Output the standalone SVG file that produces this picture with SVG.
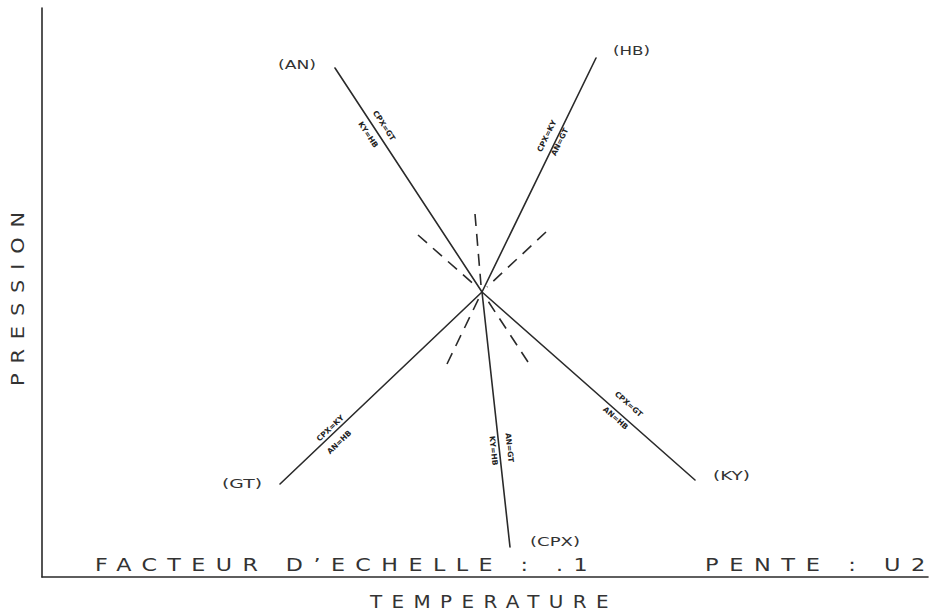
<svg xmlns="http://www.w3.org/2000/svg" width="933" height="611" viewBox="0 0 933 611">
<style>
.ln{stroke:#2a2a2a;stroke-width:1.6;fill:none;stroke-linecap:round}
.ds{stroke:#2a2a2a;stroke-width:1.6;fill:none;stroke-dasharray:12 8}
.t{font-family:"DejaVu Sans","Liberation Sans",sans-serif;fill:#333}
.lb{font-size:12px}
.sm{font-size:7.5px;font-weight:bold;text-anchor:middle;fill:#222}
.big{font-size:17px;letter-spacing:8px}
</style>
<rect width="933" height="611" fill="#fff"/>
<g id="axes">
<line class="ln" x1="42" y1="8" x2="42" y2="577"/>
<line class="ln" x1="42" y1="577" x2="928" y2="577"/>
</g>
<g id="connectors">
<line class="ln" x1="482" y1="292" x2="335" y2="68"/>
<line class="ln" x1="482" y1="292" x2="596" y2="58"/>
<line class="ln" x1="482" y1="292" x2="280" y2="484"/>
<line class="ln" x1="482" y1="292" x2="510" y2="547"/>
<line class="ln" x1="482" y1="292" x2="695" y2="480"/>
<line class="ds" x1="418" y1="235" x2="478" y2="288"/>
<line class="ds" x1="475" y1="214" x2="481" y2="285"/>
<line class="ds" x1="546" y1="232" x2="487" y2="287"/>
<line class="ds" x1="447" y1="364" x2="479" y2="298"/>
<line class="ds" x1="528" y1="362" x2="486" y2="298"/>
</g>
<g id="AN">
<text class="t lb" x="278" y="69" textLength="38" lengthAdjust="spacingAndGlyphs">(AN)</text>
<text class="t sm" transform="translate(382,127) rotate(56.7)">CPX=GT</text>
<text class="t sm" transform="translate(366,136) rotate(56.7)">KY=HB</text>
</g>
<g id="HB">
<text class="t lb" x="613" y="55" textLength="37" lengthAdjust="spacingAndGlyphs">(HB)</text>
<text class="t sm" transform="translate(549,137) rotate(-64)">CPX=KY</text>
<text class="t sm" transform="translate(562,143) rotate(-64)">AN=GT</text>
</g>
<g id="GT">
<text class="t lb" x="222" y="488" textLength="40" lengthAdjust="spacingAndGlyphs">(GT)</text>
<text class="t sm" transform="translate(332,430) rotate(-43.5)">CPX=KY</text>
<text class="t sm" transform="translate(341,444) rotate(-43.5)">AN=HB</text>
</g>
<g id="CPX">
<text class="t lb" x="530" y="546" textLength="50" lengthAdjust="spacingAndGlyphs">(CPX)</text>
<text class="t sm" transform="translate(507,448) rotate(83.7)">AN=GT</text>
<text class="t sm" transform="translate(491,451) rotate(83.7)">KY=HB</text>
</g>
<g id="KY">
<text class="t lb" x="713" y="480" textLength="37" lengthAdjust="spacingAndGlyphs">(KY)</text>
<text class="t sm" transform="translate(627,406) rotate(41.4)">CPX=GT</text>
<text class="t sm" transform="translate(614,420) rotate(41.4)">AN=HB</text>
</g>
<g id="texts">
<text class="t big" x="95" y="571" textLength="503" lengthAdjust="spacingAndGlyphs">FACTEUR D’ECHELLE : .1</text>
<text class="t big" x="705" y="571" textLength="231" lengthAdjust="spacingAndGlyphs">PENTE : U2</text>
<text class="t big" x="370" y="608" textLength="248" lengthAdjust="spacingAndGlyphs">TEMPERATURE</text>
<text class="t big" transform="translate(24,386) rotate(-90)" textLength="184" lengthAdjust="spacingAndGlyphs">PRESSION</text>
</g>
</svg>
